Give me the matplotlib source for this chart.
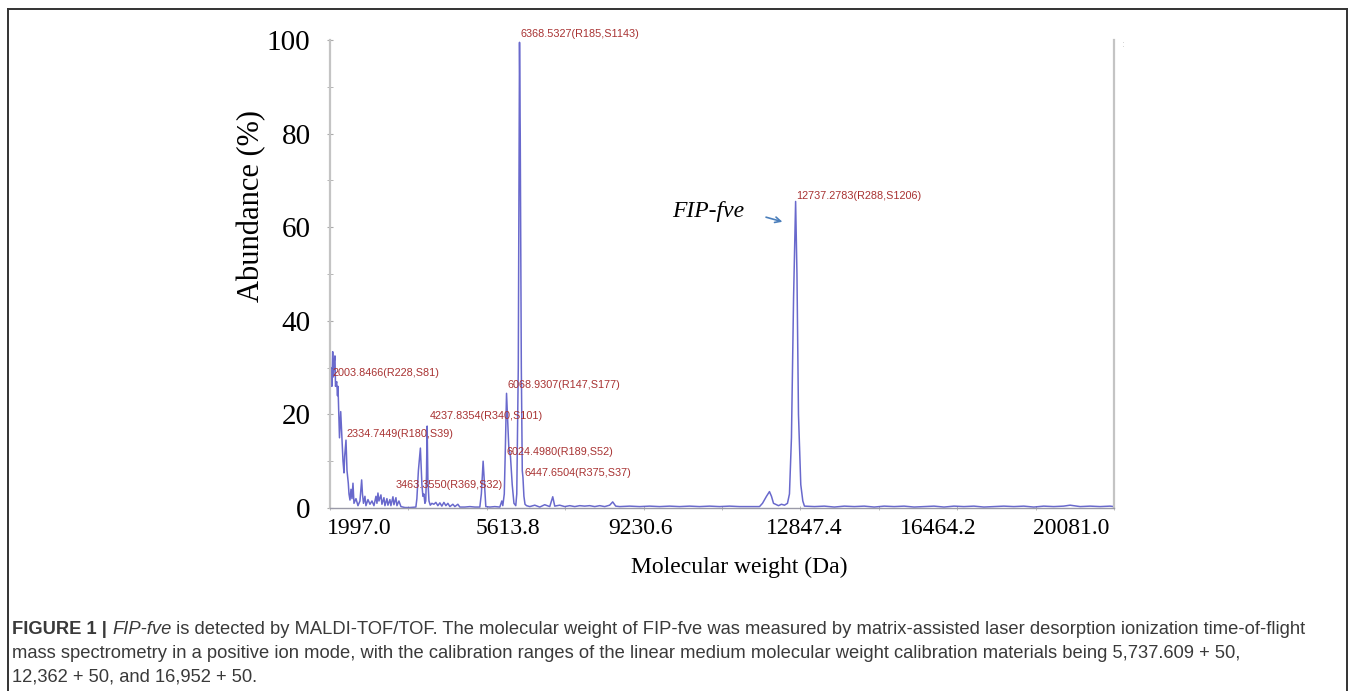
# -*- coding: utf-8 -*-
# MALDI-TOF/TOF spectrum of FIP-fve, redrawn with matplotlib

import matplotlib
matplotlib.use('Agg')
from matplotlib import pyplot as plt
from matplotlib.lines import Line2D

# spectrum trace: molecular weight (Da) / abundance (%)
mass = [
    1997, 2020, 2040, 2059, 2073, 2089, 2112, 2124, 2151, 2170, 2181, 2204,
    2216, 2244, 2267, 2297, 2320, 2335, 2366, 2389, 2419, 2435, 2458, 2481,
    2504, 2527, 2550, 2596, 2642, 2688, 2727, 2746, 2769, 2803, 2826, 2873,
    2919, 2965, 3011, 3057, 3080, 3103, 3126, 3172, 3195, 3241, 3264, 3310,
    3333, 3379, 3402, 3449, 3472, 3518, 3541, 3587, 3633, 3725, 3840, 3978,
    4001, 4036, 4082, 4117, 4140, 4163, 4186, 4205, 4222, 4238, 4255, 4280,
    4310, 4347, 4393, 4439, 4485, 4531, 4577, 4624, 4670, 4716, 4762, 4831,
    4877, 4946, 4992, 5107, 5223, 5338, 5453, 5488, 5529, 5568, 5591, 5683,
    5799, 5914, 5960, 5983, 6017, 6040, 6069, 6090, 6121, 6160, 6200, 6240,
    6282, 6305, 6340, 6360, 6368.5, 6385, 6410, 6432, 6448, 6470, 6495, 6530,
    6605, 6720, 6835, 6950, 7066, 7135, 7181, 7296, 7411, 7527, 7642, 7757,
    7872, 7987, 8103, 8218, 8333, 8448, 8518, 8587, 8679, 8909, 9139, 9370,
    9600, 9830, 10061, 10291, 10522, 10752, 10983, 11213, 11443, 11674, 11904,
    11973, 12065, 12134, 12180, 12227, 12273, 12342, 12411, 12480, 12549,
    12595, 12641, 12690, 12737, 12768, 12803, 12856, 12903, 12941, 13171,
    13400, 13630, 13860, 14090, 14320, 14550, 14780, 15010, 15240, 15470,
    15700, 15930, 16160, 16390, 16620, 16850, 17080, 17310, 17540, 17770,
    18000, 18230, 18460, 18690, 18920, 19068, 19300, 19530, 19760, 19990, 20081,
]
abundance = [
    29.0, 30.0, 26.0, 33.4, 28.0, 31.0, 32.5, 26.0, 27.0, 24.0, 26.0, 18.8,
    15.0, 20.6, 16.0, 10.0, 7.5, 11.0, 14.5, 8.0, 5.3, 3.0, 1.7, 4.0,
    2.0, 5.3, 1.0, 2.0, 0.5, 1.5, 6.0, 3.0, 1.0, 2.5, 0.5, 1.8,
    0.8, 1.5, 0.5, 2.5, 1.0, 3.2, 1.5, 2.8, 0.8, 2.2, 0.5, 2.0,
    0.6, 1.8, 0.5, 2.4, 0.7, 2.2, 0.5, 1.5, 0.3, 0.1, 0.1, 0.2,
    2.0, 8.0, 12.8, 5.0, 2.5, 3.0, 1.0, 1.5, 7.0, 17.5, 6.0, 1.5,
    0.6, 1.0, 0.8, 1.2, 0.5, 1.1, 0.4, 1.2, 0.5, 1.0, 0.3, 0.8,
    0.3, 0.8, 0.2, 0.2, 0.3, 0.2, 0.2, 3.0, 10.0, 4.0, 0.3, 0.2,
    0.3, 0.2, 1.5, 0.5, 3.0, 12.0, 24.5, 20.0, 13.0, 11.0, 5.0, 1.0,
    0.5, 3.0, 30.0, 80.0, 99.5, 80.0, 30.0, 8.0, 6.5, 2.5, 0.8, 0.5,
    0.3, 0.6, 0.2, 0.7, 0.3, 2.4, 0.4, 0.6, 0.3, 0.5, 0.3, 0.5,
    0.4, 0.5, 0.3, 0.5, 0.3, 0.6, 1.3, 0.4, 0.3, 0.4, 0.3, 0.4,
    0.3, 0.4, 0.3, 0.4, 0.3, 0.4, 0.3, 0.4, 0.3, 0.3, 0.3,
    1.0, 2.5, 3.5, 2.5, 1.0, 0.8, 0.5, 0.8, 0.6, 1.0,
    3.0, 15.0, 45.0, 65.5, 50.0, 20.0, 5.0, 1.5, 0.4, 0.3,
    0.4, 0.2, 0.4, 0.3, 0.4, 0.2, 0.4, 0.3, 0.4, 0.2,
    0.3, 0.4, 0.2, 0.4, 0.3, 0.4, 0.2, 0.3, 0.4, 0.3,
    0.4, 0.2, 0.4, 0.3, 0.4, 0.6, 0.3, 0.4, 0.3, 0.4, 0.3,
]

# peak labels (text, x in Da, y in %)
peak_labels = ['6368.5327(R185,S1143)', '12737.2783(R288,S1206)',
               '2003.8466(R228,S81)', '2334.7449(R180,S39)',
               '4237.8354(R340,S101)', '3463.3550(R369,S32)',
               '6068.9307(R147,S177)', '6024.4980(R189,S52)',
               '6447.6504(R375,S37)']
label_x = [6398, 12757, 2066, 2389, 4301, 3518, 6098, 6075, 6490]
label_y = [101.3, 66.7, 28.8, 15.8, 19.7, 4.9, 26.3, 12.0, 7.5]

# axis ticks
xtick_labels = ['1997.0', '5613.8', '9230.6', '12847.4', '16464.2', '20081.0']
xtick_label_pos = [2666, 6092, 9149, 12932, 16024, 19092]
xtick_marks = [1997.0, 3805.4, 5613.8, 7422.2, 9230.6, 11039.0,
               12847.4, 14655.8, 16464.2, 18272.6, 20081.0]
yticks = [0, 20, 40, 60, 80, 100]
yticks_minor = [10, 30, 50, 70, 90]

caption_lines = [
    'mass spectrometry in a positive ion mode, with the calibration ranges of '
    'the linear medium molecular weight calibration materials being 5,737.609 + 50,',
    '12,362 + 50, and 16,952 + 50.',
]

W, H = 1355, 691
fig = plt.figure(figsize=(W / 100, H / 100), dpi=100)
ax = fig.add_axes([330 / W, 1 - 508 / H, 784 / W, 468 / H])

ax.plot(mass, abundance, color='#4f4fc4', lw=1.1, alpha=0.85)
ax.set_xlim(1997, 20081)
ax.set_ylim(0, 100)

ax.spines['top'].set_visible(False)
for s in ['left', 'right']:
    ax.spines[s].set_color('#c4c4c4')
    ax.spines[s].set_linewidth(1.6)
ax.spines['bottom'].set_color('#9a9aa8')
ax.spines['bottom'].set_linewidth(1.0)

serif = 'Liberation Serif'
ax.set_xticks(xtick_label_pos)
ax.set_xticklabels(xtick_labels, fontsize=17, family=serif)
ax.set_xticks(xtick_marks, minor=True)
ax.tick_params(axis='x', which='major', length=0, pad=7)
ax.tick_params(axis='x', which='minor', length=3, color='#b0b0b0', direction='inout')

ax.set_yticks(yticks)
ax.set_yticklabels([str(v) for v in yticks], fontsize=21, family=serif)
ax.set_yticks(yticks_minor, minor=True)
ax.tick_params(axis='y', which='both', length=4, color='#aaaaaa',
               direction='inout', pad=12)

ax.set_xlabel('Molecular weight (Da)', fontsize=17, family=serif, va='center')
ax.xaxis.set_label_coords(0.522, -0.128)
ax.set_ylabel('Abundance (%)', fontsize=22, family=serif, va='center')
ax.yaxis.set_label_coords(-0.0995, 0.645)

for t, x, y in zip(peak_labels, label_x, label_y):
    ax.text(x, y, t, fontsize=7.8, color='#a83232', family='Liberation Sans',
            ha='left', va='center', clip_on=False)

ax.text(9887, 63.3, 'FIP-fve', fontsize=17, family=serif, style='italic',
        ha='left', va='center')
ax.annotate('', xy=(12494, 61.0), xytext=(11993, 62.3),
            arrowprops=dict(arrowstyle='->', color='#4a7ebb', lw=1.2))
ax.text(1.01, 0.985, ':', transform=ax.transAxes, fontsize=6, color='#bbbbbb')

# frame round the figure panel
for xs, ys in [([8, 1347], [9, 9]), ([8, 8], [9, H]), ([1347, 1347], [9, H])]:
    fig.add_artist(Line2D([x / W for x in xs], [1 - y / H for y in ys],
                          color='#333333', lw=1.4))

# caption: first line is built from bold / italic / regular pieces
r = fig.canvas.get_renderer()
cap = dict(fontsize=13.2, family='Liberation Sans', color='#3a3a3a', va='center')
x0 = 12 / W
y1 = 1 - 630 / H
pieces = [('FIGURE 1 | ', 'bold', 'normal'), ('FIP-fve', 'normal', 'italic'),
          (' is detected by MALDI-TOF/TOF. The molecular weight of FIP-fve was '
           'measured by matrix-assisted laser desorption ionization time-of-flight',
           'normal', 'normal')]
xc = x0
for txt, wt, st in pieces:
    t = fig.text(xc, y1, txt, weight=wt, style=st, **cap)
    bb = t.get_window_extent(renderer=r)
    xc += bb.width / W
fig.text(x0, 1 - 653 / H, caption_lines[0], **cap)
fig.text(x0, 1 - 677 / H, caption_lines[1], **cap)

plt.savefig('out.png', dpi=100)
